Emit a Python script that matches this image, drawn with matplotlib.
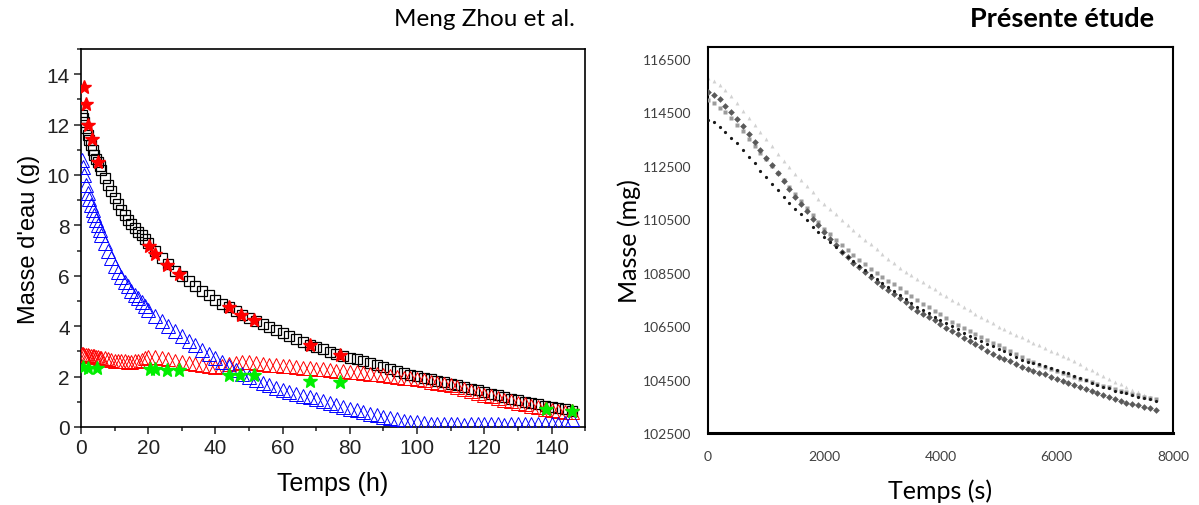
import numpy as np
import matplotlib
matplotlib.use("Agg")
import matplotlib.pyplot as plt
from matplotlib.ticker import MultipleLocator

# ---- left chart (Meng Zhou et al.) : water mass vs time (h)
temps_h = [0.3, 0.6, 1, 1.5, 2, 2.5, 3, 3.5, 4, 4.5, 5, 5.5, 6, 7, 8, 9, 10, 11, 12, 13, 14, 15, 16, 17, 18, 19, 20,
           22, 24, 26, 28, 30, 32, 34, 36, 38, 40, 42, 44, 46, 48, 50, 52, 54, 56, 58, 60, 62, 64, 66, 68, 70,
           72, 74, 76, 78, 80, 82, 84, 86, 88, 90, 92, 94, 96, 98, 100, 102, 104, 106, 108, 110, 112, 114, 116,
           118, 120, 122, 124, 126, 128, 130, 132, 134, 136, 138, 140, 142, 144, 146]
masse_noir = [12.4, 12.25, 12.1, 11.85, 11.6, 11.4, 11.2, 11.0, 10.8, 10.65, 10.5, 10.35, 10.2, 9.9, 9.6, 9.35, 9.1,
              8.85, 8.6, 8.4, 8.2, 8.05, 7.9, 7.75, 7.6, 7.45, 7.3, 7.0, 6.7, 6.45, 6.2, 6.0, 5.8, 5.6, 5.4, 5.22,
              5.05, 4.9, 4.76, 4.6, 4.45, 4.33, 4.2, 4.08, 3.95, 3.85, 3.74, 3.62, 3.5, 3.38, 3.27, 3.18, 3.08,
              2.98, 2.9, 2.82, 2.75, 2.68, 2.6, 2.52, 2.45, 2.38, 2.3, 2.23, 2.15, 2.08, 2.01, 1.96, 1.9, 1.84,
              1.78, 1.72, 1.65, 1.58, 1.52, 1.45, 1.38, 1.32, 1.25, 1.19, 1.12, 1.06, 1.0, 0.95, 0.9, 0.84, 0.8,
              0.75, 0.7, 0.65]
masse_rouge = [2.9, 2.88, 2.87, 2.86, 2.85, 2.83, 2.82, 2.8, 2.8, 2.78, 2.77, 2.75, 2.74, 2.72, 2.7, 2.66, 2.62,
               2.62, 2.6, 2.6, 2.58, 2.58, 2.6, 2.62, 2.66, 2.72, 2.76, 2.78, 2.74, 2.68, 2.62, 2.58, 2.54, 2.5,
               2.46, 2.42, 2.38, 2.4, 2.5, 2.55, 2.56, 2.56, 2.54, 2.5, 2.47, 2.44, 2.42, 2.4, 2.37, 2.35, 2.33,
               2.31, 2.29, 2.27, 2.24, 2.22, 2.2, 2.18, 2.15, 2.12, 2.1, 2.07, 2.04, 2.0, 1.96, 1.93, 1.89, 1.85,
               1.8, 1.75, 1.7, 1.65, 1.58, 1.5, 1.43, 1.36, 1.28, 1.22, 1.15, 1.09, 1.02, 0.96, 0.9, 0.84, 0.78,
               0.72, 0.67, 0.63, 0.6, 0.6]
masse_bleu = [10.6, 10.3, 10.0, 9.6, 9.3, 9.05, 8.8, 8.6, 8.4, 8.2, 8.0, 7.8, 7.6, 7.3, 7.0, 6.7, 6.4, 6.15, 5.95,
              5.75, 5.58, 5.4, 5.25, 5.1, 4.95, 4.8, 4.65, 4.42, 4.2, 4.0, 3.8, 3.6, 3.42, 3.24, 3.06, 2.88, 2.72,
              2.56, 2.4, 2.25, 2.11, 1.98, 1.87, 1.76, 1.65, 1.55, 1.45, 1.38, 1.3, 1.23, 1.17, 1.1, 1.02, 0.95,
              0.87, 0.8, 0.73, 0.66, 0.6, 0.53, 0.46, 0.4, 0.35, 0.3, 0.25, 0.21, 0.18, 0.15, 0.13, 0.12, 0.11,
              0.1, 0.1, 0.09, 0.1, 0.1, 0.11, 0.1, 0.1, 0.09, 0.1, 0.1, 0.11, 0.1, 0.1, 0.11, 0.12, 0.12, 0.14, 0.3]

etoiles_rouges_t = [1.0, 1.4, 2.2, 3.2, 5.0, 20.3, 22.0, 25.5, 29.0, 44.1, 47.5, 51.5, 68.2, 77.2, 138.4, 146.2]
etoiles_rouges_m = [13.5, 12.83, 12.0, 11.44, 10.5, 7.2, 6.88, 6.44, 6.08, 4.76, 4.46, 4.23, 3.27, 2.84, 0.73, 0.63]
etoiles_vertes_t = [0.7, 2.2, 4.7, 20.6, 22.0, 25.5, 29.0, 43.9, 47.3, 51.5, 68.2, 77.1, 138.4, 146.2]
etoiles_vertes_m = [2.38, 2.35, 2.35, 2.29, 2.29, 2.25, 2.27, 2.07, 2.05, 2.05, 1.82, 1.78, 0.70, 0.63]

# ---- right chart (Présente étude) : mass (mg) vs time (s)
temps_s = np.arange(0, 7701, 100)
masse_losange = [115250, 115150, 115000, 114740, 114520, 114270, 113990, 113700, 113400, 113090, 112800, 112520,
                 112230, 111920, 111640, 111350, 111060, 110810, 110500, 110280, 110030, 109760, 109530, 109280,
                 109090, 108880, 108700, 108510, 108340, 108170, 108000, 107850, 107700, 107540, 107400, 107220,
                 107080, 106950, 106840, 106720, 106580, 106440, 106310, 106190, 106060, 105940, 105820, 105710,
                 105580, 105460, 105350, 105260, 105180, 105090, 104980, 104900, 104830, 104760, 104690, 104590,
                 104510, 104440, 104360, 104290, 104210, 104140, 104070, 103990, 103910, 103830, 103760, 103690,
                 103640, 103590, 103550, 103490, 103430, 103370]
masse_points = [114230, 114140, 113950, 113760, 113550, 113340, 113090, 112820, 112590, 112320, 112080, 111810,
                111590, 111330, 111120, 110900, 110690, 110460, 110220, 110010, 109830, 109650, 109460, 109280,
                109100, 108930, 108760, 108590, 108430, 108270, 108120, 107970, 107820, 107650, 107510, 107370,
                107230, 107100, 106980, 106860, 106730, 106620, 106500, 106380, 106260, 106150, 106050, 105950,
                105850, 105760, 105660, 105560, 105440, 105340, 105230, 105170, 105130, 105070, 105000, 104920,
                104850, 104780, 104730, 104650, 104560, 104480, 104390, 104300, 104240, 104170, 104090, 104030,
                103980, 103910, 103860, 103810, 103760, 103710]
masse_carres = [114950, 114860, 114670, 114500, 114290, 114040, 113790, 113520, 113260, 113000, 112740, 112480,
                112220, 111960, 111700, 111440, 111190, 110930, 110670, 110410, 110150, 109940, 109730, 109520,
                109340, 109160, 108980, 108810, 108650, 108490, 108330, 108190, 108060, 107930, 107780, 107630,
                107480, 107340, 107210, 107080, 106940, 106800, 106670, 106540, 106430, 106310, 106200, 106090,
                105990, 105880, 105780, 105670, 105560, 105450, 105350, 105250, 105150, 105060, 104980, 104900,
                104820, 104740, 104660, 104600, 104530, 104470, 104400, 104330, 104270, 104210, 104150, 104090,
                104030, 103970, 103910, 103860, 103810, 103770]
masse_triangles = [115780, 115670, 115540, 115340, 115110, 114840, 114560, 114300, 114030, 113760, 113490, 113230,
                   112960, 112700, 112450, 112200, 111970, 111750, 111510, 111270, 111060, 110870, 110680, 110480,
                   110300, 110110, 109930, 109740, 109560, 109380, 109200, 109030, 108850, 108680, 108540, 108400,
                   108270, 108140, 108010, 107880, 107750, 107620, 107490, 107360, 107230, 107100, 106970, 106850,
                   106720, 106600, 106480, 106380, 106280, 106180, 106080, 105980, 105880, 105780, 105680, 105580,
                   105480, 105380, 105290, 105190, 105090, 104950, 104840, 104730, 104620, 104520, 104420, 104320,
                   104220, 104120, 104020, 103930, 103860, 103790]

fig = plt.figure(figsize=(11.99, 5.06), dpi=100)

# left panel
ax1 = fig.add_axes([0.0676, 0.1542, 0.4204, 0.7470])
ax1.plot(temps_h, masse_noir, 's', ms=7.5, mfc='none', mec='black', mew=0.9, zorder=2)
ax1.plot(temps_h, masse_rouge, '^', ms=10, mfc='none', mec='red', mew=0.7, zorder=3)
ax1.plot(temps_h, masse_bleu, '^', ms=10, mfc='none', mec='blue', mew=0.7, zorder=4)
ax1.plot(etoiles_rouges_t, etoiles_rouges_m, '*', ms=10, color='red', mec='red', zorder=5)
ax1.plot(etoiles_vertes_t, etoiles_vertes_m, '*', ms=10, color='#00ee00', mec='#00ee00', zorder=5)
ax1.set_xlim(0, 150)
ax1.set_ylim(0, 15)
ax1.xaxis.set_major_locator(MultipleLocator(20))
ax1.xaxis.set_minor_locator(MultipleLocator(10))
ax1.yaxis.set_major_locator(MultipleLocator(2))
ax1.yaxis.set_minor_locator(MultipleLocator(1))
ax1.tick_params(which='both', direction='out', top=False, right=False, width=1.1, colors='#222222',
                labelsize=15, labelfontfamily='Liberation Sans')
ax1.tick_params(which='major', length=5, pad=3)
ax1.tick_params(which='minor', length=3)
for sp in ax1.spines.values():
    sp.set_linewidth(1.2)
ax1.set_xlabel('Temps (h)', fontsize=18, family='Liberation Sans', labelpad=10)
ax1.set_ylabel("Masse d'eau (g)", fontsize=17, family='Liberation Sans', labelpad=5)

# right panel
ax2 = fig.add_axes([0.5905, 0.1423, 0.3878, 0.7628])
ax2.plot(temps_s, masse_triangles, '^', ms=2.8, color='#d2d2d2', mec='none', zorder=2)
ax2.plot(temps_s, masse_carres, 's', ms=2.6, color='#9c9c9c', mec='none', zorder=3)
ax2.plot(temps_s, masse_losange, 'D', ms=3.4, color='#5a5a5a', mec='none', zorder=4)
ax2.plot(temps_s, masse_points, 'o', ms=2.3, color='#1a1a1a', mec='none', zorder=5)
ax2.set_xlim(0, 8000)
ax2.set_ylim(102500, 116950)
ax2.set_xticks(np.arange(0, 8001, 2000))
ax2.set_yticks(np.arange(102500, 116501, 2000))
ax2.tick_params(length=0, labelsize=10, labelcolor='#404040', labelfontfamily='Lato')
ax2.tick_params(axis='x', pad=12)
ax2.tick_params(axis='y', pad=12)
for sp in ax2.spines.values():
    sp.set_linewidth(1.5)
ax2.spines['bottom'].set_linewidth(2.2)
ax2.set_xlabel('Temps (s)', fontsize=18, family='Lato', labelpad=12)
ax2.set_ylabel('Masse (mg)', fontsize=18, family='Lato', labelpad=1)

fig.text(0.404, 0.962, 'Meng Zhou et al.', fontsize=17.5, family='Lato', ha='center', va='center')
fig.text(0.886, 0.962, 'Présente étude', fontsize=19.5, family='Lato', weight='bold', ha='center', va='center')

fig.savefig('out.png', dpi=100)
